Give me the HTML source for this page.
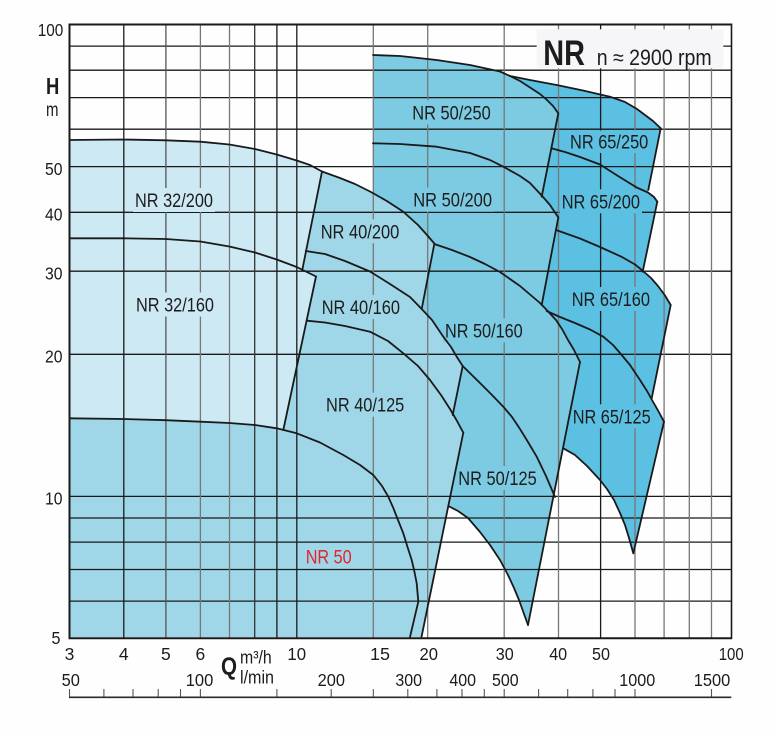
<!DOCTYPE html>
<html><head><meta charset="utf-8"><style>
html,body{margin:0;padding:0;background:#fefefe;}
svg{display:block;}
text{font-family:"Liberation Sans",Arial,sans-serif;fill:#1c1c1c;}
</style></head><body>
<svg width="777" height="730" viewBox="0 0 777 730" xmlns="http://www.w3.org/2000/svg">
<rect width="777" height="730" fill="#fefefe"/>

<!-- 65 series -->
<path fill="#5bc0e1" d="M510,76 L530,80 L556.7,85 L583,90.5 L610,96.7 L625,102 L637,109 L645,115 L653,121 L660.7,128.3 L648.3,190 L648,192.5 L654,197 L657.3,201.7 L642.7,271.7 L651,278 L658,286 L665,295.5 L670.7,305 L651.7,398.3 L658,410.5 L664,421.7 L633.3,553.3 L629,538 L625,525 L620,513 L614,500 L607,489 L600,480 L587,466 L575,455 L563.3,448.3 L580,362 L541.7,305 L558.3,217.5 L541.7,196.7 L558.3,113.3 L553,106 L547,100 L540,94 L530,87.5 L520,81 Z"/>
<!-- 50 series -->
<path fill="#7dcae3" d="M373,55 L400,56 L436.7,60 L470,65 L500,71.5 L510,76 L520,81 L530,87.5 L540,94 L547,100 L553,106 L558.3,113.3 L541.7,196.7 L550,205 L558.3,217.5 L541.7,305 L546.7,310 L556,320 L562,329 L568,340 L574,350 L580,362 L528,625 L519,600 L514,588 L508,575 L500,560 L490,545 L480,532 L468,518 L458,511 L448.3,506 L440,470 L420,320 L420,240 L373,192 Z"/>
<!-- medium (40 series + bottom) -->
<path fill="#9fd7e8" d="M322,171.5 L340,178 L355,184 L370,191.5 L386,200.5 L403,211.5 L418,225 L427,235 L434.3,243.5 L421.7,309 L432,320 L443.3,336.7 L451,347 L456.7,356.7 L462.7,366 L452.7,415 L457,421 L463.3,432.7 L421.5,637 L69.5,637 L69.5,300 Z"/>
<!-- light (32 series) -->
<path fill="#cde9f3" d="M69.5,140 L123.3,139.5 L165.7,140.3 L200.3,141.7 L229.3,144.5 L255,149 L276.7,154.5 L296.7,160.5 L310,165 L322,171.5 L302.3,269.8 L316,276.5 L283.3,430 L276.7,428.3 L255,425 L229.3,423 L200.3,421.7 L165.7,420.2 L123.3,419 L69.5,418.3 Z"/>

<!-- horizontal grid -->
<g stroke="#1a1a1a" stroke-width="1.3">
<line x1="69.5" x2="731.5" y1="46.1" y2="46.1"/>
<line x1="69.5" x2="731.5" y1="70.2" y2="70.2"/>
<line x1="69.5" x2="731.5" y1="97.6" y2="97.6"/>
<line x1="69.5" x2="731.5" y1="129.2" y2="129.2"/>
<line x1="69.5" x2="731.5" y1="166.6" y2="166.6"/>
<line x1="69.5" x2="731.5" y1="212.3" y2="212.3"/>
<line x1="69.5" x2="731.5" y1="271.2" y2="271.2"/>
<line x1="69.5" x2="731.5" y1="354.3" y2="354.3"/>
<line x1="69.5" x2="731.5" y1="496.4" y2="496.4"/>
<line x1="69.5" x2="731.5" y1="518" y2="518"/>
<line x1="69.5" x2="731.5" y1="542.1" y2="542.1"/>
<line x1="69.5" x2="731.5" y1="569.5" y2="569.5"/>
<line x1="69.5" x2="731.5" y1="601.1" y2="601.1"/>
</g>
<!-- vertical grid -->
<g stroke-width="1.3">
<line x1="123.8" x2="123.8" y1="24.5" y2="638" stroke="#1a1a1a"/>
<line x1="165.9" x2="165.9" y1="24.5" y2="638" stroke="#555"/>
<line x1="200.4" x2="200.4" y1="24.5" y2="638" stroke="#777"/>
<line x1="229.5" x2="229.5" y1="24.5" y2="638" stroke="#777"/>
<line x1="254.7" x2="254.7" y1="24.5" y2="638" stroke="#333"/>
<line x1="276.9" x2="276.9" y1="24.5" y2="638" stroke="#1a1a1a"/>
<line x1="296.8" x2="296.8" y1="24.5" y2="638" stroke="#1a1a1a"/>
<line x1="373.3" x2="373.3" y1="24.5" y2="638" stroke="#777"/>
<line x1="427.7" x2="427.7" y1="24.5" y2="638" stroke="#777"/>
<line x1="504.2" x2="504.2" y1="24.5" y2="638" stroke="#777"/>
<line x1="558.5" x2="558.5" y1="24.5" y2="638" stroke="#777"/>
<line x1="600.6" x2="600.6" y1="24.5" y2="638" stroke="#1a1a1a"/>
<line x1="635" x2="635" y1="24.5" y2="638" stroke="#777"/>
<line x1="664.1" x2="664.1" y1="24.5" y2="638" stroke="#777"/>
<line x1="689.3" x2="689.3" y1="24.5" y2="638" stroke="#777"/>
<line x1="711.5" x2="711.5" y1="24.5" y2="638" stroke="#777"/>
</g>
<!-- borders -->
<g stroke="#1a1a1a">
<line x1="68.5" x2="732" y1="24.5" y2="24.5" stroke-width="2"/>
<line x1="69.5" x2="69.5" y1="23.5" y2="639" stroke-width="2"/>
<line x1="731.5" x2="731.5" y1="23.5" y2="639" stroke-width="1.6"/>
<line x1="68.5" x2="732" y1="638.2" y2="638.2" stroke-width="2"/>
</g>

<!-- title box -->
<rect x="536.7" y="29.3" width="186.6" height="39" fill="#f6f5f8"/>
<text x="543.3" y="65" font-size="35" font-weight="bold" textLength="41.7" lengthAdjust="spacingAndGlyphs">NR</text>
<text x="596.7" y="65" font-size="22" textLength="115" lengthAdjust="spacingAndGlyphs">n ≈ 2900 rpm</text>

<!-- label backgrounds -->
<g>
<rect x="133" y="188" width="82" height="24" fill="#cde9f3"/>
<rect x="134" y="292.5" width="82" height="24" fill="#cde9f3"/>
<rect x="318.7" y="219.3" width="82.6" height="24" fill="#9fd7e8"/>
<rect x="319.7" y="295" width="82.3" height="24" fill="#9fd7e8"/>
<rect x="324" y="392.7" width="82.3" height="24" fill="#9fd7e8"/>
<rect x="410.3" y="100.3" width="82.4" height="24" fill="#7dcae3"/>
<rect x="411.3" y="187.7" width="82.7" height="24" fill="#7dcae3"/>
<rect x="443" y="318.3" width="81.7" height="24" fill="#7dcae3"/>
<rect x="456.3" y="466" width="82.4" height="24" fill="#7dcae3"/>
<rect x="568" y="130.5" width="82.3" height="22.5" fill="#5bc0e1"/>
<rect x="559.7" y="189.3" width="82.3" height="24" fill="#5bc0e1"/>
<rect x="569.7" y="287" width="82.3" height="24" fill="#5bc0e1"/>
<rect x="570.7" y="404.3" width="82" height="24" fill="#5bc0e1"/>
</g>

<!-- curves -->
<g fill="none" stroke="#1a1a1a" stroke-width="1.8" stroke-linejoin="round" stroke-linecap="round">
<polyline points="69.5,140 123.3,139.5 165.7,140.3 200.3,141.7 229.3,144.5 255,149 276.7,154.5 296.7,160.5 310,165 322,171.5"/>
<polyline points="322,171.5 340,178 355,184 370,191.5 386,200.5 403,211.5 418,225 427,235 434.3,243.5"/>
<polyline points="322,171.5 302.3,269.8"/>
<polyline points="69.5,238.3 123.3,238.3 165.7,239 200.3,241.5 229.3,246.5 255,252.5 276.7,259.5 296.7,267 316,276.5"/>
<polyline points="316,276.5 283.3,430"/>
<polyline points="69.5,418.3 123.3,419 165.7,420.2 200.3,421.7 229.3,423 255,425 276.7,428.3 296.7,433.3 320,442.5 343.3,455 360,465 373.3,475 382,486 388.3,496.7 393.3,508 398,520 403.3,533.3 407.5,547 411.7,560 414.5,572 416.7,583.3 418.3,601.7 410,637"/>
<polyline points="305.7,251 325,254 345,261 370,271.5 390,284 410,297 421.7,309 432,320 443.3,336.7 451,347 456.7,356.7 462.7,366"/>
<polyline points="434.3,244 421.7,309"/>
<polyline points="306.9,320.7 325,322.5 345,326 370,331.7 388,341 403.3,353.3 418,366 430,380 441,395 450,409 457,421 463.3,432.7"/>
<polyline points="462.7,366 452.7,415"/>
<polyline points="463.3,432.7 421.5,637"/>
<polyline points="373,55 400,56 436.7,60 470,65 500,71.5 510,76 530,80 556.7,85 583,90.5 610,96.7 625,102 637,109 645,115 653,121 660.7,128.3"/>
<polyline points="510,76 520,81 530,87.5 540,94 547,100 553,106 558.3,113.3 541.7,196.7"/>
<polyline points="373,143.3 400,144 436.7,146.7 470,153 490,160 503.3,166.7 520,176 530,183 541.7,195.5 550,205 558.3,217.5"/>
<polyline points="558.3,217.5 541.7,305"/>
<polyline points="434.3,244 452,250 470,257 485,264 500,272 520,286 540,303 546.7,310 556,320 562,329 568,340 574,350 580,362"/>
<polyline points="580,362 528,625"/>
<polyline points="462.7,366 480,383 492,395 503.3,406.7 512,417 520,429 528,442 536.7,456.7 546,476 555,497"/>
<polyline points="448.3,506 458,511 468,518 480,532 490,545 500,560 508,575 514,588 519,600 528,625"/>
<polyline points="660.7,128.3 648.3,190"/>
<polyline points="551.3,148.3 565,152 580,157 600,164.5 618,176 636.7,187.5 648,192.5 654,197 657.3,201.7"/>
<polyline points="657.3,201.7 642.7,271.7"/>
<polyline points="556,230 580,238.5 600,247 622,257 635,264.5 643,271 651,278 658,286 665,295.5 670.7,305"/>
<polyline points="670.7,305 651.7,398.3"/>
<polyline points="546.7,311 560,317 575,323 590,329.5 603.3,336.7 613,345 620,353 630,365 640,380 647,391 652,400 658,410.5 664,421.7"/>
<polyline points="664,421.7 633.3,553.3"/>
<polyline points="563.3,448.3 575,455 587,466 600,480 607,489 614,500 620,513 625,525 629,538 633.3,553.3"/>
</g>

<!-- region labels -->
<g font-size="19">
<text x="135" y="207" textLength="78" lengthAdjust="spacingAndGlyphs">NR 32/200</text>
<text x="136" y="311.5" textLength="78" lengthAdjust="spacingAndGlyphs">NR 32/160</text>
<text x="320.7" y="238.3" textLength="78.6" lengthAdjust="spacingAndGlyphs">NR 40/200</text>
<text x="321.7" y="314" textLength="78.3" lengthAdjust="spacingAndGlyphs">NR 40/160</text>
<text x="326" y="411.7" textLength="78.3" lengthAdjust="spacingAndGlyphs">NR 40/125</text>
<text x="412.3" y="119.3" textLength="78.4" lengthAdjust="spacingAndGlyphs">NR 50/250</text>
<text x="413.3" y="206.7" textLength="78.7" lengthAdjust="spacingAndGlyphs">NR 50/200</text>
<text x="445" y="337.3" textLength="77.7" lengthAdjust="spacingAndGlyphs">NR 50/160</text>
<text x="458.3" y="485" textLength="78.4" lengthAdjust="spacingAndGlyphs">NR 50/125</text>
<text x="570" y="148.3" textLength="78.3" lengthAdjust="spacingAndGlyphs">NR 65/250</text>
<text x="561.7" y="208.3" textLength="78.3" lengthAdjust="spacingAndGlyphs">NR 65/200</text>
<text x="571.7" y="306" textLength="78.3" lengthAdjust="spacingAndGlyphs">NR 65/160</text>
<text x="572.7" y="423.3" textLength="78" lengthAdjust="spacingAndGlyphs">NR 65/125</text>
<text x="305.7" y="563.3" textLength="46" lengthAdjust="spacingAndGlyphs" style="fill:#e2252b">NR 50</text>
</g>

<!-- y axis labels -->
<g font-size="17.5" text-anchor="end">
<text x="63.3" y="36" textLength="25.6" lengthAdjust="spacingAndGlyphs">100</text>
<text x="62.5" y="174.8" textLength="17.5" lengthAdjust="spacingAndGlyphs">50</text>
<text x="62.5" y="220.7" textLength="17.5" lengthAdjust="spacingAndGlyphs">40</text>
<text x="62.5" y="279.5" textLength="17.5" lengthAdjust="spacingAndGlyphs">30</text>
<text x="62.5" y="362.6" textLength="17.5" lengthAdjust="spacingAndGlyphs">20</text>
<text x="62.5" y="504.7" textLength="17.5" lengthAdjust="spacingAndGlyphs">10</text>
<text x="60.5" y="644" textLength="9" lengthAdjust="spacingAndGlyphs">5</text>
</g>
<text x="46" y="94" font-size="23" font-weight="bold" textLength="13.3" lengthAdjust="spacingAndGlyphs">H</text>
<text x="46" y="116" font-size="19" textLength="12.5" lengthAdjust="spacingAndGlyphs">m</text>

<!-- x axis m3/h labels -->
<g font-size="17.5" text-anchor="middle">
<text x="69.5" y="660">3</text>
<text x="123.8" y="660">4</text>
<text x="165.9" y="660">5</text>
<text x="200.4" y="660">6</text>
<text x="296.7" y="660" textLength="18.7" lengthAdjust="spacingAndGlyphs">10</text>
<text x="380" y="660" textLength="20" lengthAdjust="spacingAndGlyphs">15</text>
<text x="428.8" y="660" textLength="18.5" lengthAdjust="spacingAndGlyphs">20</text>
<text x="504.8" y="660" textLength="18" lengthAdjust="spacingAndGlyphs">30</text>
<text x="558.2" y="660" textLength="18" lengthAdjust="spacingAndGlyphs">40</text>
<text x="601" y="660" textLength="18" lengthAdjust="spacingAndGlyphs">50</text>
<text x="731.2" y="660" textLength="25" lengthAdjust="spacingAndGlyphs">100</text>
</g>
<!-- l/min labels -->
<g font-size="17.5" text-anchor="middle">
<text x="70.8" y="686" textLength="18.3" lengthAdjust="spacingAndGlyphs">50</text>
<text x="199.5" y="686" textLength="27.6" lengthAdjust="spacingAndGlyphs">100</text>
<text x="331.3" y="686" textLength="27.3" lengthAdjust="spacingAndGlyphs">200</text>
<text x="408.7" y="686" textLength="26.7" lengthAdjust="spacingAndGlyphs">300</text>
<text x="462.7" y="686" textLength="26.7" lengthAdjust="spacingAndGlyphs">400</text>
<text x="505.3" y="686" textLength="26.7" lengthAdjust="spacingAndGlyphs">500</text>
<text x="637.3" y="686" textLength="36" lengthAdjust="spacingAndGlyphs">1000</text>
<text x="712" y="686" textLength="36.6" lengthAdjust="spacingAndGlyphs">1500</text>
</g>
<text x="221" y="675" font-size="25" font-weight="bold" textLength="16" lengthAdjust="spacingAndGlyphs">Q</text>
<text x="240" y="663.3" font-size="18" textLength="31.7" lengthAdjust="spacingAndGlyphs">m³/h</text>
<text x="240" y="683.3" font-size="18" textLength="34" lengthAdjust="spacingAndGlyphs">l/min</text>

<!-- l/min axis -->
<g stroke="#555" stroke-width="1.1">
<line x1="69.5" x2="69.5" y1="689" y2="697"/>
<line x1="103.9" x2="103.9" y1="689" y2="697"/>
<line x1="133" x2="133" y1="689" y2="697"/>
<line x1="158.2" x2="158.2" y1="689" y2="697"/>
<line x1="180.5" x2="180.5" y1="689" y2="697"/>
<line x1="200.4" x2="200.4" y1="689" y2="697"/>
<line x1="276.9" x2="276.9" y1="689" y2="697"/>
<line x1="331.2" x2="331.2" y1="689" y2="697"/>
<line x1="373.3" x2="373.3" y1="689" y2="697"/>
<line x1="407.8" x2="407.8" y1="689" y2="697"/>
<line x1="436.9" x2="436.9" y1="689" y2="697"/>
<line x1="462" x2="462" y1="689" y2="697"/>
<line x1="484.3" x2="484.3" y1="689" y2="697"/>
<line x1="504.2" x2="504.2" y1="689" y2="697"/>
<line x1="538.6" x2="538.6" y1="689" y2="697"/>
<line x1="567.7" x2="567.7" y1="689" y2="697"/>
<line x1="592.9" x2="592.9" y1="689" y2="697"/>
<line x1="615" x2="615" y1="689" y2="697"/>
<line x1="635" x2="635" y1="689" y2="697"/>
<line x1="711.5" x2="711.5" y1="689" y2="697"/>
</g>
<line x1="69" x2="731.3" y1="697.3" y2="697.3" stroke="#2a2a2a" stroke-width="1.6"/>
</svg>
</body></html>
